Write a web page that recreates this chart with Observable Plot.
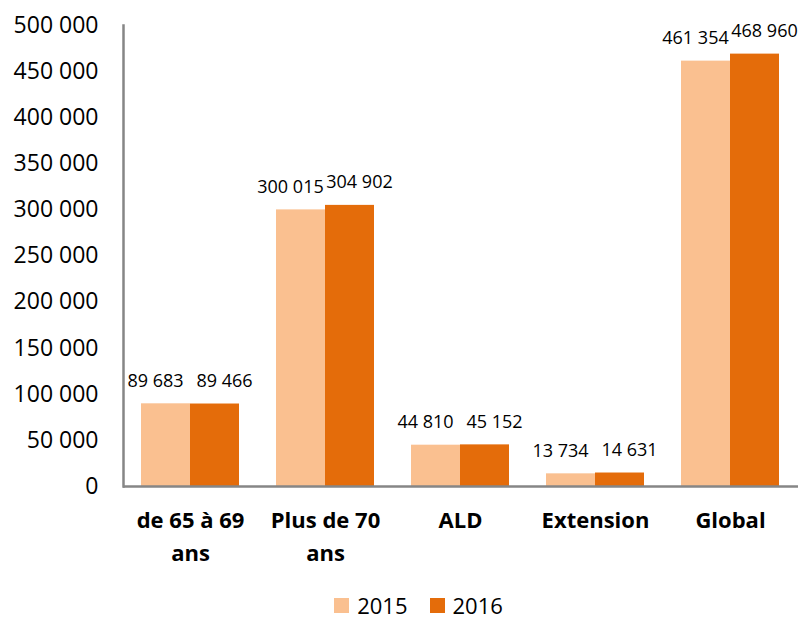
<!DOCTYPE html>
<html>
<head>
<meta charset="utf-8">
<script src="https://cdn.jsdelivr.net/npm/d3@7"></script>
<script src="https://cdn.jsdelivr.net/npm/@observablehq/plot@0.6"></script>
<style>
  body { margin: 0; background: #fff; font-family: "Open Sans", sans-serif; }
  #chart { width: 809px; }
  .legend { display: flex; justify-content: center; align-items: center; gap: 22px; font-size: 22px; color: #000; margin-top: 10px; padding-left: 28px; }
  .legend span.item { display: flex; align-items: center; gap: 8px; }
  .legend span.sw { display: inline-block; width: 15px; height: 15px; }
</style>
</head>
<body>
<div id="chart"></div>
<script>
const categories = ["de 65 à 69 ans", "Plus de 70 ans", "ALD", "Extension", "Global"];
const categoryLabels = ["de 65 à 69\nans", "Plus de 70\nans", "ALD", "Extension", "Global"];
const values2015 = [89683, 300015, 44810, 13734, 461354];
const values2016 = [89466, 304902, 45152, 14631, 468960];
const years = ["2015", "2016"];
const colors = ["#FAC090", "#E46C0A"];
const yTicks = [0, 50000, 100000, 150000, 200000, 250000, 300000, 350000, 400000, 450000, 500000];

const fr = d3.formatLocale({decimal: ",", thousands: " ", grouping: [3], currency: ["", " €"]});
const fmt = fr.format(",d");

const data = [];
categories.forEach((c, i) => {
  data.push({category: c, year: years[0], value: values2015[i]});
  data.push({category: c, year: years[1], value: values2016[i]});
});
const d15 = data.filter(d => d.year === "2015");
const d16 = data.filter(d => d.year === "2016");
const labelOf = new Map(categories.map((c, i) => [c, categoryLabels[i]]));

const plot = Plot.plot({
  width: 809,
  height: 580,
  marginLeft: 123,
  marginRight: 11,
  marginTop: 25,
  marginBottom: 94,
  style: {fontFamily: "Open Sans, sans-serif", color: "#000", background: "#fff"},
  x: {domain: categories, paddingInner: 0.274, paddingOuter: 0.137, label: null},
  y: {domain: [0, 500000], label: null},
  marks: [
    Plot.barY(d15, {x: "category", y: "value", fill: colors[0], insetRight: 49, insetLeft: 0}),
    Plot.barY(d16, {x: "category", y: "value", fill: colors[1], insetLeft: 49, insetRight: 0}),
    Plot.text(d15, {x: "category", y: "value", text: d => fmt(d.value), dx: -35, dy: -17, lineAnchor: "bottom", fontSize: 18, fill: "#000"}),
    Plot.text(d16, {x: "category", y: "value", text: d => fmt(d.value), dx: 34, dy: -17, lineAnchor: "bottom", fontSize: 18, fill: "#000"}),
    Plot.axisY({ticks: yTicks, tickFormat: fmt, tickSize: 0, tickPadding: 25, fontSize: 23, label: null}),
    Plot.axisX({tickFormat: d => labelOf.get(d), tickSize: 0, tickPadding: 18, fontSize: 22, fontWeight: "bold", lineHeight: 1.5, label: null}),
    Plot.frame({anchor: "left", stroke: "#868686", strokeWidth: 2.5}),
    Plot.ruleY([0], {stroke: "#868686", strokeWidth: 2.5})
  ]
});
document.getElementById("chart").appendChild(plot);

const legend = document.createElement("div");
legend.className = "legend";
years.forEach((y, i) => {
  const item = document.createElement("span");
  item.className = "item";
  const sw = document.createElement("span");
  sw.className = "sw";
  sw.style.background = colors[i];
  const t = document.createElement("span");
  t.textContent = y;
  item.appendChild(sw);
  item.appendChild(t);
  legend.appendChild(item);
});
document.getElementById("chart").appendChild(legend);
</script>
</body>
</html>
